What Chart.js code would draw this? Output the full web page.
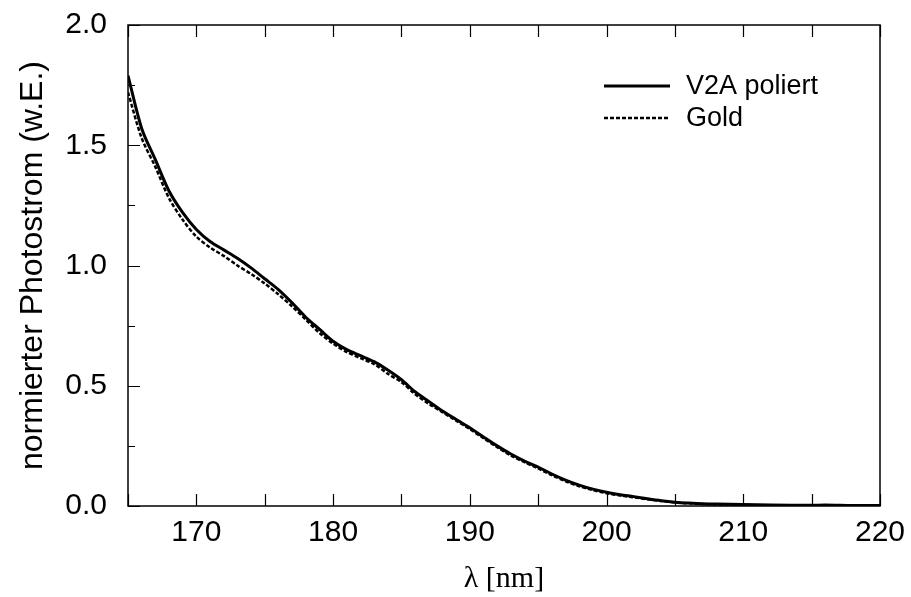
<!DOCTYPE html>
<html lang="de">
<head>
<meta charset="UTF-8">
<title>Photostrom</title>
<script src="https://cdn.jsdelivr.net/npm/chart.js"></script>
<style>
    body { margin: 0; background: #fff; }
    .chart-container { width: 911px; height: 597px; }
</style>
</head>
<body>
<div class="chart-container">
    <canvas id="photoChart"></canvas>
</div>
<script>
// wavelength in nm
const wavelength = [165, 166, 167, 168, 169, 170, 171, 172, 173, 174, 175, 176, 177, 178, 179, 180,
    181, 182, 183, 184, 185, 186, 187, 188, 189, 190, 191, 192, 193, 194, 195, 196, 197, 198, 199, 200,
    201, 202, 203, 204, 205, 206, 207, 208, 210, 212, 215, 216, 218, 220];
const v2aPoliert = [1.79, 1.57, 1.44, 1.31, 1.22, 1.15, 1.10, 1.065, 1.03, 0.99, 0.945, 0.90, 0.845, 0.785, 0.735, 0.685,
    0.65, 0.625, 0.60, 0.565, 0.525, 0.475, 0.435, 0.395, 0.36, 0.325, 0.287, 0.25, 0.216, 0.187, 0.162, 0.133, 0.108, 0.087, 0.07, 0.057,
    0.047, 0.039, 0.03, 0.022, 0.016, 0.012, 0.009, 0.008, 0.006, 0.004, 0.003, 0.004, 0.002, 0.002];
const gold = [1.72, 1.53, 1.41, 1.28, 1.19, 1.12, 1.075, 1.04, 1.00, 0.965, 0.925, 0.88, 0.83, 0.775, 0.72, 0.675,
    0.64, 0.615, 0.59, 0.55, 0.515, 0.465, 0.425, 0.39, 0.355, 0.32, 0.282, 0.245, 0.21, 0.182, 0.156, 0.128, 0.103, 0.082, 0.066, 0.053,
    0.044, 0.036, 0.028, 0.021, 0.015, 0.011, 0.008, 0.006, 0.004, 0.003, 0.002, 0.002, 0.001, 0.001];

const xTicks = [170, 180, 190, 200, 210, 220];
const xMinorTicks = [165, 170, 175, 180, 185, 190, 195, 200, 205, 210, 215, 220];
const yTicks = [0.0, 0.5, 1.0, 1.5, 2.0];
const yMinorTicks = [0.25, 0.75, 1.25, 1.75];

function toPoints(xs, ys) {
    return xs.map((x, i) => ({ x: x, y: ys[i] }));
}

// frame, inward ticks and legend drawn through the chart's scales
const framePlugin = {
    id: "frame",
    afterDraw(chart) {
        const ctx = chart.ctx;
        const a = chart.chartArea;
        const xs = chart.scales.x;
        const ys = chart.scales.y;
        ctx.save();
        ctx.strokeStyle = "#000";
        ctx.lineWidth = 1.5;
        ctx.strokeRect(a.left, a.top, a.right - a.left, a.bottom - a.top);

        ctx.lineWidth = 1.2;
        ctx.beginPath();
        xMinorTicks.forEach(v => {
            const px = Math.round(xs.getPixelForValue(v)) + 0.5;
            ctx.moveTo(px, a.bottom); ctx.lineTo(px, a.bottom - 12);
            ctx.moveTo(px, a.top); ctx.lineTo(px, a.top + 12);
        });
        yTicks.forEach(v => {
            const py = Math.round(ys.getPixelForValue(v)) + 0.5;
            ctx.moveTo(a.left, py); ctx.lineTo(a.left + 12, py);
        });
        yMinorTicks.forEach(v => {
            const py = Math.round(ys.getPixelForValue(v)) + 0.5;
            ctx.moveTo(a.left, py); ctx.lineTo(a.left + 7, py);
        });
        ctx.stroke();

        // legend
        ctx.font = "27px 'Liberation Sans', Arial, sans-serif";
        ctx.textBaseline = "middle";
        ctx.fillStyle = "#000";
        chart.data.datasets.forEach((ds, i) => {
            const y = 86 + i * 32;
            ctx.beginPath();
            ctx.lineWidth = ds.borderWidth;
            ctx.setLineDash(ds.borderDash || []);
            ctx.moveTo(604, y); ctx.lineTo(670, y);
            ctx.stroke();
            ctx.setLineDash([]);
            ctx.fillText(ds.label, 686, y + 1);
        });
        ctx.restore();
    }
};

new Chart(document.getElementById("photoChart"), {
    type: "line",
    data: {
        datasets: [{
            label: "V2A poliert",
            data: toPoints(wavelength, v2aPoliert),
            borderColor: "#000",
            borderWidth: 3,
            pointRadius: 0,
            tension: 0.3,
            fill: false
        }, {
            label: "Gold",
            data: toPoints(wavelength, gold),
            borderColor: "#000",
            borderWidth: 2.5,
            borderDash: [4, 2],
            pointRadius: 0,
            tension: 0.3,
            fill: false
        }]
    },
    options: {
        responsive: true,
        maintainAspectRatio: false,
        animation: false,
        layout: { padding: { top: 25, right: 31, left: 0, bottom: 0 } },
        plugins: {
            legend: { display: false },
            tooltip: { enabled: false }
        },
        scales: {
            x: {
                type: "linear",
                min: 165,
                max: 220,
                afterBuildTicks: scale => { scale.ticks = xTicks.map(v => ({ value: v })); },
                afterFit: scale => {
                    scale.height = 91;
                    scale.paddingLeft = 0;
                    scale.paddingRight = 0;
                },
                grid: { display: false, drawTicks: false },
                border: { display: false },
                ticks: {
                    color: "#000",
                    padding: 9,
                    maxRotation: 0,
                    font: { family: "'Liberation Sans', Arial, sans-serif", size: 30 }
                },
                title: {
                    display: true,
                    text: "λ [nm]",
                    color: "#000",
                    padding: { top: 0, bottom: 0 },
                    font: { family: "'Liberation Serif', 'Times New Roman', serif", size: 30 }
                }
            },
            y: {
                type: "linear",
                min: 0,
                max: 2,
                afterBuildTicks: scale => { scale.ticks = yTicks.map(v => ({ value: v })); },
                afterFit: scale => {
                    scale.width = 128;
                    scale.paddingTop = 0;
                    scale.paddingBottom = 0;
                },
                grid: { display: false, drawTicks: false },
                border: { display: false },
                ticks: {
                    color: "#000",
                    padding: 21,
                    callback: v => v.toFixed(1),
                    font: { family: "'Liberation Sans', Arial, sans-serif", size: 30 }
                },
                title: {
                    display: true,
                    text: "normierter Photostrom (w.E.)",
                    color: "#000",
                    padding: { top: 14, bottom: 0 },
                    font: { family: "'Liberation Sans', Arial, sans-serif", size: 32 }
                }
            }
        }
    },
    plugins: [framePlugin]
});
</script>
</body>
</html>
